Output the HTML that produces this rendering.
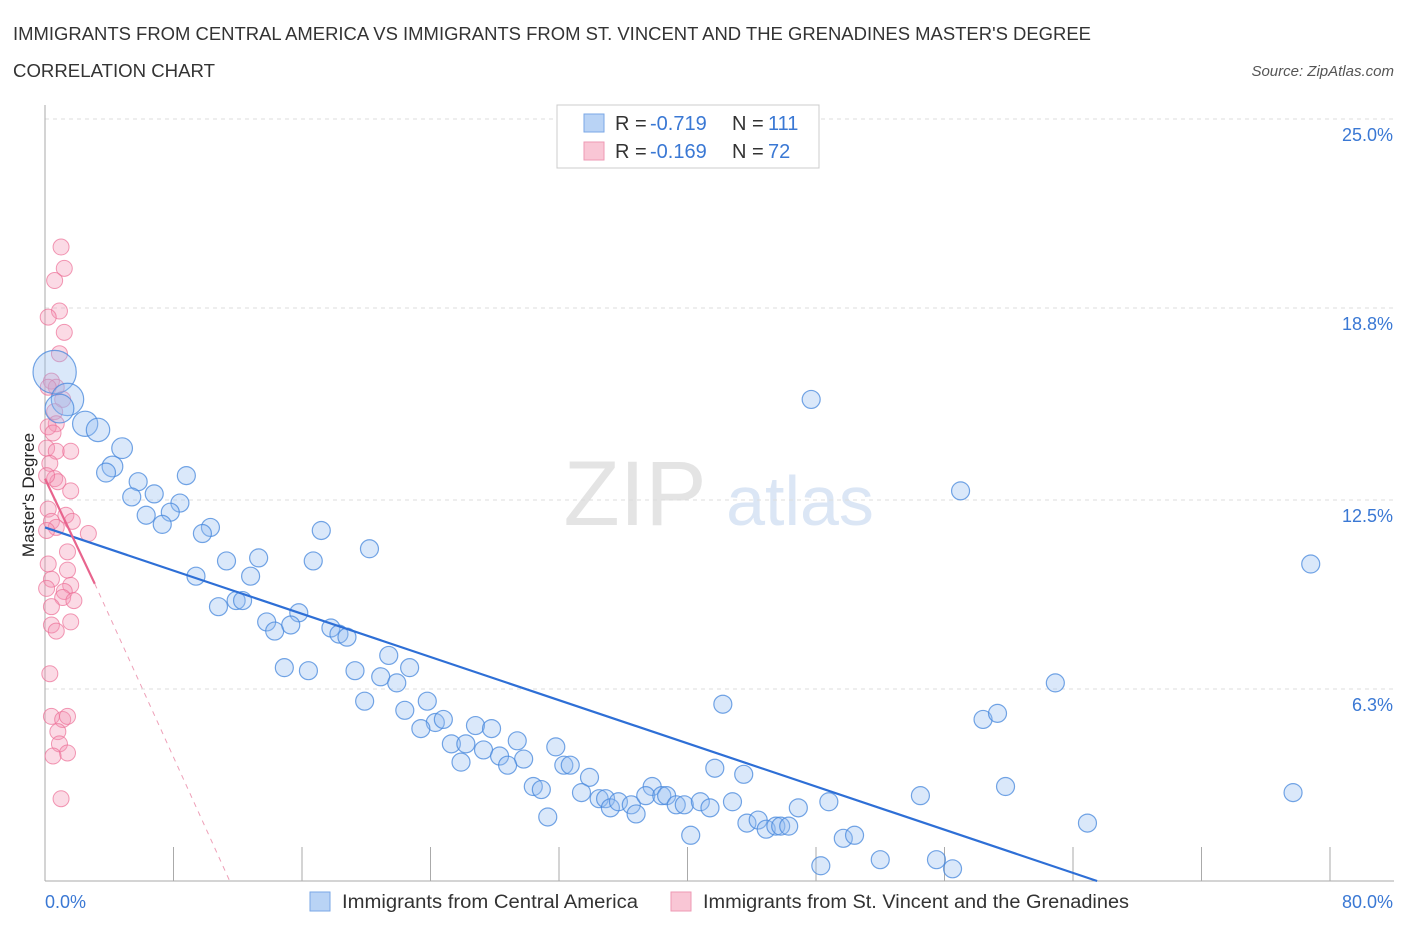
<!DOCTYPE html>
<html><head><meta charset="utf-8">
<style>
body{margin:0;background:#fff;width:1406px;height:930px;overflow:hidden;font-family:"Liberation Sans",sans-serif;}
svg text{font-family:"Liberation Sans",sans-serif;}
</style></head>
<body>
<svg id="chart" width="1406" height="930" viewBox="0 0 1406 930" xmlns="http://www.w3.org/2000/svg">
<text x="13" y="40" font-size="18" fill="#333" textLength="1078" lengthAdjust="spacingAndGlyphs">IMMIGRANTS FROM CENTRAL AMERICA VS IMMIGRANTS FROM ST. VINCENT AND THE GRENADINES MASTER'S DEGREE</text>
<text x="13" y="77" font-size="18" fill="#333" textLength="202" lengthAdjust="spacingAndGlyphs">CORRELATION CHART</text>
<text x="1394" y="76" font-size="15" fill="#555" font-style="italic" text-anchor="end">Source: ZipAtlas.com</text>
<text x="635" y="525" font-size="92" fill="#e4e4e4" font-family="Liberation Serif" text-anchor="middle">ZIP</text>
<text x="800" y="525" font-size="70" fill="#dbe6f5" text-anchor="middle">atlas</text>
<g id="grid"></g>
<g id="axes"></g>
<g id="pink"></g>
<g id="blue"></g>
<g id="trends"></g>
<text transform="translate(34,495) rotate(-90)" font-size="17" fill="#222" text-anchor="middle">Master's Degree</text>
<g>
<rect x="557" y="105" width="262" height="63" fill="#fff" stroke="#ccc"/>
<rect x="584" y="114" width="20" height="18" fill="#b9d3f5" stroke="#7aa7e6"/>
<text x="615" y="130" font-size="20" fill="#333">R = </text>
<text x="650" y="130" font-size="20" fill="#3a78d4">-0.719</text>
<text x="732" y="130" font-size="20" fill="#333">N = </text>
<text x="768" y="130" font-size="20" fill="#3a78d4">111</text>
<rect x="584" y="142" width="20" height="18" fill="#f9c6d5" stroke="#ee99b4"/>
<text x="615" y="158" font-size="20" fill="#333">R = </text>
<text x="650" y="158" font-size="20" fill="#3a78d4">-0.169</text>
<text x="732" y="158" font-size="20" fill="#333">N = </text>
<text x="768" y="158" font-size="20" fill="#3a78d4">72</text>
</g>
<g>
<rect x="310" y="892" width="20" height="19" fill="#b9d3f5" stroke="#7aa7e6"/>
<text x="342" y="908" font-size="19" fill="#333" textLength="296" lengthAdjust="spacingAndGlyphs">Immigrants from Central America</text>
<rect x="671" y="892" width="20" height="19" fill="#f9c6d5" stroke="#ee99b4"/>
<text x="703" y="908" font-size="19" fill="#333" textLength="426" lengthAdjust="spacingAndGlyphs">Immigrants from St. Vincent and the Grenadines</text>
</g>
</svg>
<script>
const yTicks=[6.3,12.5,18.8,25.0];
const yTickLabels=["6.3%","12.5%","18.8%","25.0%"];
const xTickLabels=["0.0%","80.0%"];
const blueX=[0.6,1.4,0.9,2.5,3.3,4.8,4.2,3.8,5.8,5.4,6.8,8.8,8.4,7.8,6.3,7.3,10.3,9.8,17.2,11.3,13.3,16.7,20.2,9.4,12.8,10.8,11.9,12.3,15.8,13.8,14.3,15.3,17.8,18.3,18.8,21.4,22.7,14.9,16.4,19.3,20.9,21.9,19.9,23.8,22.4,24.3,24.8,23.4,26.8,27.8,25.3,26.2,27.3,28.3,29.4,29.8,25.9,28.8,31.8,32.3,32.7,33.9,30.4,30.9,33.4,34.5,34.9,35.2,35.7,36.5,36.8,37.8,37.4,38.4,38.7,39.3,39.8,40.8,41.4,42.8,31.3,40.2,41.7,43.5,42.2,43.7,44.4,44.9,45.5,45.8,46.3,46.9,48.8,48.3,49.7,50.4,52.0,54.5,55.5,56.5,47.7,57.0,58.4,59.3,59.8,62.9,64.9,77.7,78.8];
const blueY=[16.7,15.8,15.5,15.0,14.8,14.2,13.6,13.4,13.1,12.6,12.7,13.3,12.4,12.1,12.0,11.7,11.6,11.4,11.5,10.5,10.6,10.5,10.9,10.0,10.0,9.0,9.2,9.2,8.8,8.5,8.2,8.4,8.3,8.1,8.0,7.4,7.0,7.0,6.9,6.9,6.7,6.5,5.9,5.9,5.6,5.2,5.3,5.0,5.1,5.0,4.5,4.5,4.3,4.1,4.6,4.0,3.9,3.8,4.4,3.8,3.8,3.4,3.1,3.0,2.9,2.7,2.7,2.4,2.6,2.5,2.2,3.1,2.8,2.8,2.8,2.5,2.5,2.6,2.4,2.6,2.1,1.5,3.7,3.5,5.8,1.9,2.0,1.7,1.8,1.8,1.8,2.4,2.6,0.5,1.4,1.5,0.7,2.8,0.7,0.4,15.8,12.8,5.3,5.5,3.1,6.5,1.9,2.9,10.4];
const blueW=[2.4,1.8,1.6,1.4,1.3,1.15,1.15,1.05];
const pinkX=[1.0,1.2,0.6,0.9,0.2,1.2,0.9,0.4,0.7,0.2,1.1,0.6,0.7,0.2,0.5,0.1,0.7,1.6,0.3,0.6,0.8,0.1,1.6,0.2,1.3,0.4,1.7,0.7,0.1,2.7,1.4,0.2,1.4,0.4,1.6,0.1,1.2,1.1,1.8,0.4,1.6,0.4,0.7,0.3,0.4,1.1,1.4,0.8,0.9,1.4,0.5,1.0];
const pinkY=[20.8,20.1,19.7,18.7,18.5,18.0,17.3,16.4,16.2,16.2,15.8,15.4,15.0,14.9,14.7,14.2,14.1,14.1,13.7,13.2,13.1,13.3,12.8,12.2,12.0,11.8,11.8,11.6,11.5,11.4,10.8,10.4,10.2,9.9,9.7,9.6,9.5,9.3,9.2,9.0,8.5,8.4,8.2,6.8,5.4,5.3,5.4,4.9,4.5,4.2,4.1,2.7];
const blueTrend=[[0,11.6],[65.5,0]];
const pinkTrend=[[0,13.2],[3.1,9.75],[11.5,0]];
const NS="http://www.w3.org/2000/svg";
const X0=45,X1=1330,Y0=881,YT=119;
const xs=v=>X0+v*(X1-X0)/80;
const ys=v=>Y0-v*(Y0-YT)/25;
function mk(tag,attrs,parent){const e=document.createElementNS(NS,tag);for(const k in attrs)e.setAttribute(k,attrs[k]);document.getElementById(parent).appendChild(e);return e;}
yTicks.forEach((t,i)=>{
 const l=mk('line',{x1:X0,x2:1394,y1:ys(t),y2:ys(t),stroke:'#ddd','stroke-dasharray':'4,4'},'grid');
 
 
 const tx=mk('text',{x:1393,y:ys(t)+22,'font-size':18,fill:'#3a78d4','text-anchor':'end'},'grid');
 tx.textContent=yTickLabels[i];
 
 
});
const ax=mk('line',{x1:X0,x2:X0,y1:105,y2:Y0,stroke:'#aaa'},'axes');


const bx=mk('line',{x1:X0,x2:1394,y1:Y0,y2:Y0,stroke:'#aaa'},'axes');


for(let i=1;i<=10;i++){const t=mk('line',{x1:xs(i*8),x2:xs(i*8),y1:Y0,y2:Y0-34,stroke:'#aaa'},'axes');
 
 }
[[0,'start',45],[80,'end',1393]].forEach((d,i)=>{const t=mk('text',{x:d[2],y:908,'font-size':18,fill:'#3a78d4','text-anchor':d[1]},'axes');t.textContent=xTickLabels[i];
 
 });
pinkX.forEach((x,i)=>{const c=mk('circle',{cx:xs(x),cy:ys(pinkY[i]),r:8,fill:'rgba(244,150,180,0.35)',stroke:'rgba(236,110,150,0.7)','stroke-width':1},'pink');
 
 });
blueX.forEach((x,i)=>{const c=mk('circle',{cx:xs(x),cy:ys(blueY[i]),r:9*(blueW[i]||1),fill:'rgba(150,190,240,0.35)',stroke:'rgba(70,135,220,0.75)','stroke-width':1.2},'blue');
 
 });
const bt=mk('line',{x1:xs(blueTrend[0][0]),y1:ys(blueTrend[0][1]),x2:xs(blueTrend[1][0]),y2:ys(blueTrend[1][1]),stroke:'#2e6fd6','stroke-width':2.2},'trends');


const pt=mk('line',{x1:xs(pinkTrend[0][0]),y1:ys(pinkTrend[0][1]),x2:xs(pinkTrend[1][0]),y2:ys(pinkTrend[1][1]),stroke:'#e8648d','stroke-width':2.2},'trends');


const pd=mk('line',{x1:xs(pinkTrend[1][0]),y1:ys(pinkTrend[1][1]),x2:xs(pinkTrend[2][0]),y2:ys(pinkTrend[2][1]),stroke:'#eea0b8','stroke-width':1,'stroke-dasharray':'5,5'},'trends');


</script>
</body></html>
